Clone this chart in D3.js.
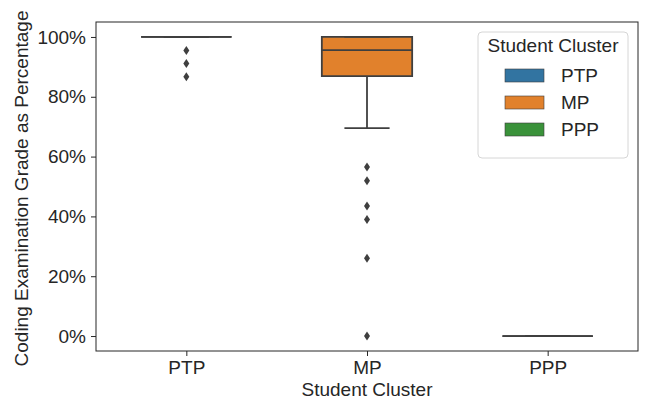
<!DOCTYPE html>
<html>
<head>
<meta charset="utf-8">
<script src="https://cdn.jsdelivr.net/npm/d3@7"></script>
<style>
  body { margin: 0; background: #fff; }
  text { font-family: "Liberation Sans", Arial, sans-serif; fill: #262626; }
</style>
</head>
<body>
<div id="wrapper"></div>
<script>
// box statistics per cluster (fractions of 1)
const clusters = ["PTP", "MP", "PPP"];
const q1 = [1.0, 0.869, 0.0];
const medians = [1.0, 0.956, 0.0];
const q3 = [1.0, 1.0, 0.0];
const whiskerLow = [1.0, 0.695, 0.0];
const whiskerHigh = [1.0, 1.0, 0.0];
const outliers = [
    [0.955, 0.911, 0.867],
    [0.565, 0.519, 0.435, 0.390, 0.260, 0.0],
    []
];
const yTicks = [0, 0.2, 0.4, 0.6, 0.8, 1.0];
const colors = ["#3274a1", "#e1812c", "#3a923a"];

function drawChart() {
    const width = 649;
    const height = 401;
    let dimensions = {
        width: width,
        height: height,
        margin: { top: 22, right: 11, bottom: 50, left: 96 }
    };
    dimensions.boundedWidth = width - dimensions.margin.left - dimensions.margin.right;
    dimensions.boundedHeight = height - dimensions.margin.top - dimensions.margin.bottom;

    const fontSize = "19px";
    const edge = "#3f3f3f";
    const lw = 1.8;

    const wrapper = d3.select("#wrapper")
        .append("svg")
        .attr("width", width)
        .attr("height", height);

    const bounds = wrapper.append("g")
        .attr("transform", `translate(${dimensions.margin.left},${dimensions.margin.top})`);

    const xScale = d3.scalePoint()
        .domain(clusters)
        .range([0, dimensions.boundedWidth])
        .padding(0.5);
    const step = dimensions.boundedWidth / clusters.length;
    const boxW = step * 0.5;

    const yScale = d3.scaleLinear()
        .domain([-0.05, 1.05])
        .range([dimensions.boundedHeight, 0]);

    // axes
    const yAxis = bounds.append("g")
        .call(d3.axisLeft(yScale).tickValues(yTicks).tickFormat(d3.format(".0%"))
            .tickSize(5).tickPadding(5));
    const xAxis = bounds.append("g")
        .attr("transform", `translate(0,${dimensions.boundedHeight})`)
        .call(d3.axisBottom(xScale).tickSize(5).tickPadding(5));
    [xAxis, yAxis].forEach(ax => {
        ax.select(".domain").remove();
        ax.selectAll(".tick line").attr("stroke", "#262626").attr("stroke-width", 1);
        ax.selectAll(".tick text").style("font-size", fontSize).attr("fill", "#262626");
    });

    // boxes
    const groups = bounds.selectAll(".box")
        .data(clusters)
        .join("g")
        .attr("class", "box");

    groups.each(function (c, i) {
        const g = d3.select(this);
        const cx = xScale(c);
        const x0 = cx - boxW / 2, x1 = cx + boxW / 2;
        const capW = boxW / 2;

        // whiskers
        g.append("line")
            .attr("x1", cx).attr("x2", cx)
            .attr("y1", yScale(q1[i])).attr("y2", yScale(whiskerLow[i]))
            .attr("stroke", edge).attr("stroke-width", lw);
        g.append("line")
            .attr("x1", cx).attr("x2", cx)
            .attr("y1", yScale(q3[i])).attr("y2", yScale(whiskerHigh[i]))
            .attr("stroke", edge).attr("stroke-width", lw);

        // box
        g.append("path")
            .attr("d", `M${x0},${yScale(q3[i])}H${x1}V${yScale(q1[i])}H${x0}Z`)
            .attr("fill", colors[i])
            .attr("stroke", edge)
            .attr("stroke-width", lw);

        // caps
        [whiskerLow[i], whiskerHigh[i]].forEach(v => {
            g.append("line")
                .attr("x1", cx - capW / 2).attr("x2", cx + capW / 2)
                .attr("y1", yScale(v)).attr("y2", yScale(v))
                .attr("stroke", edge).attr("stroke-width", lw);
        });

        // median
        g.append("line")
            .attr("x1", x0).attr("x2", x1)
            .attr("y1", yScale(medians[i])).attr("y2", yScale(medians[i]))
            .attr("stroke", edge).attr("stroke-width", lw);

        // outliers (thin diamonds)
        g.selectAll(".flier")
            .data(outliers[i])
            .join("path")
            .attr("class", "flier")
            .attr("d", "M0,-4.5L3,0L0,4.5L-3,0Z")
            .attr("transform", d => `translate(${cx},${yScale(d)})`)
            .attr("fill", edge);
    });

    // frame
    bounds.append("rect")
        .attr("width", dimensions.boundedWidth)
        .attr("height", dimensions.boundedHeight)
        .attr("fill", "none")
        .attr("stroke", "#262626")
        .attr("stroke-width", 1);

    // axis labels
    bounds.append("text")
        .attr("x", dimensions.boundedWidth / 2)
        .attr("y", dimensions.boundedHeight + 45)
        .attr("text-anchor", "middle")
        .style("font-size", fontSize)
        .text("Student Cluster");

    wrapper.append("text")
        .attr("transform", `translate(28,${dimensions.margin.top + dimensions.boundedHeight / 2 + 2}) rotate(-90)`)
        .attr("text-anchor", "middle")
        .style("font-size", fontSize)
        .text("Coding Examination Grade as Percentage");

    // legend
    const legend = wrapper.append("g").attr("transform", "translate(478,32)");
    legend.append("rect")
        .attr("width", 150)
        .attr("height", 126)
        .attr("rx", 4)
        .attr("fill", "#fff")
        .attr("fill-opacity", 0.8)
        .attr("stroke", "#d6d6d6");
    legend.append("text")
        .attr("x", 75)
        .attr("y", 20)
        .attr("text-anchor", "middle")
        .style("font-size", fontSize)
        .text("Student Cluster");
    const items = legend.selectAll(".item")
        .data(clusters)
        .join("g")
        .attr("class", "item")
        .attr("transform", (d, i) => `translate(27,${37 + i * 27})`);
    items.append("rect")
        .attr("width", 39)
        .attr("height", 13)
        .attr("fill", (d, i) => colors[i])
        .attr("stroke", edge)
        .attr("stroke-width", 0.6);
    items.append("text")
        .attr("x", 56)
        .attr("y", 13)
        .style("font-size", fontSize)
        .text(d => d);
}

drawChart();
</script>
</body>
</html>
